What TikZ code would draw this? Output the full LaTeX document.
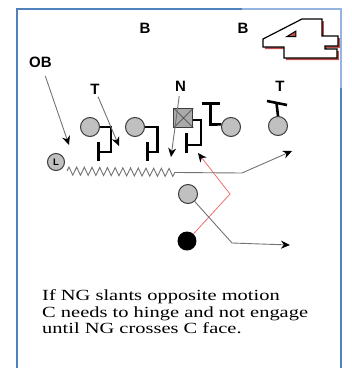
\documentclass[tikz,border=0pt]{standalone}
\usepackage{fontspec}
\setmainfont{Liberation Serif}
\newfontfamily\labelfont{Liberation Sans}
\usetikzlibrary{arrows.meta,decorations.pathmorphing}
\definecolor{frameblue}{RGB}{79,129,189}
\definecolor{framelight}{RGB}{150,180,225}
\definecolor{playerfill}{RGB}{192,192,192}
\definecolor{boxfill}{RGB}{170,170,170}
\definecolor{playerdraw}{RGB}{60,60,60}
\definecolor{routegray}{RGB}{115,115,115}
\definecolor{shadowred}{RGB}{192,80,77}
\definecolor{pathred}{RGB}{240,110,110}
\tikzset{
  player/.style={circle, fill=playerfill, draw=playerdraw, line width=1pt, minimum size=19pt, inner sep=0pt},
  centerbox/.style={rectangle, fill=boxfill, draw=playerdraw, line width=1pt, minimum size=19pt, inner sep=0pt},
  lbl/.style={font=\labelfont\bfseries\fontsize{15}{15}\selectfont, inner sep=0pt},
  blockline/.style={line width=2.6pt, black},
  route/.style={routegray, line width=0.9pt, -{Stealth[length=9pt,width=8pt,color=black]}},
  captionline/.style={anchor=base west, inner sep=0pt, font=\fontsize{15.5}{16}\selectfont},
}
\begin{document}
\begin{tikzpicture}[x=1pt,y=-1pt]
\useasboundingbox (0,0) rectangle (352,368);
% frame
\draw[frameblue, line width=2pt] (17,368) -- (17,9) -- (242,9);
\draw[framelight, line width=2pt] (242,9) -- (341,9) -- (341,88);
\draw[frameblue, line width=2pt] (341,88) -- (341,368);
% the "4" logo
\fill[shadowred] (304,21) -- (324,21) -- (324,38) -- (340,38) -- (340,48) -- (327,48) -- (327,51) -- (339,51) -- (339,60) -- (286,60) -- (286,49) -- (265,49) -- (265,41) -- cycle;
\draw[black, fill=white, line width=1.2pt, line join=miter] (302,19) -- (322,19) -- (322,36) -- (338,36) -- (338,46) -- (325,46) -- (325,49) -- (337,49) -- (337,58) -- (284,58) -- (284,47) -- (263,47) -- (263,39) -- cycle;
\draw[black, fill=shadowred, line width=1pt] (287,36.5) -- (296,31) -- (296,36.5) -- cycle;
% labels
\node[lbl] (b1) at (145,28) {B};
\node[lbl] (b2) at (243,28) {B};
\node[lbl] (ob) at (40.5,62) {OB};
\node[lbl] (tl) at (95,89.5) {T};
\node[lbl] (nl) at (180.5,86.5) {N};
\node[lbl] (tr) at (280,86.5) {T};
% players
\node[player] (p1) at (90,127) {};
\node[player] (p2) at (135,127) {};
\node[centerbox] (sq) at (183.5,118) {};
\draw[playerdraw, line width=0.6pt] (sq.north west) -- (sq.south east) (sq.north east) -- (sq.south west);
\node[player] (p4) at (231,127) {};
\node[player] (p5) at (278,126) {};
\node[player] (p6) at (188,194) {};
\node[circle, fill=black, minimum size=19pt, inner sep=0pt] (bk) at (187,241) {};
\node[player, minimum size=17pt, font=\labelfont\bfseries\fontsize{9.5}{9.5}\selectfont] (lq) at (56,162) {L};
% blocks
\draw[blockline] (p1.east) -- (111,127) -- (111,152) -- (98.5,152);
\draw[blockline] (98.5,142) -- (98.5,161);
\draw[blockline] (p2.east) -- (157.5,127) -- (157.5,152) -- (147.5,152);
\draw[blockline] (147.5,142) -- (147.5,161);
\draw[blockline] (sq.east |- 0,120) -- (201,120) -- (201,145) -- (186.5,145);
\draw[blockline] (186.5,133) -- (186.5,153);
\draw[blockline] (p4.165) -- (210.5,124.5) -- (210.5,103.5);
\draw[blockline] (202,103.5) -- (220,103.5);
\draw[blockline] (p5.north) -- (276.5,103);
\draw[blockline] (267,101) -- (287,105);
% coordinates
\coordinate (obtip) at (69,145);
\coordinate (ttip) at (119,146);
\coordinate (ntip) at (171,157);
\coordinate (rbend) at (230,194);
\coordinate (rtip) at (198,153);
\coordinate (gbend) at (232,243);
\coordinate (gtip) at (290,245);
\coordinate (zs) at (67,171);
\coordinate (ze) at (178,172.5);
\coordinate (mbend) at (242,173);
\coordinate (mtip) at (292,151);
% routes
\draw[route, shorten <=9pt] (ob) -- (obtip);
\draw[route, shorten <=2pt] (tl) -- (ttip);
\draw[route, shorten <=4pt] (nl) -- (ntip);
\draw[pathred, line width=0.8pt, -{Stealth[length=9pt,width=8pt,color=black]}] (bk) -- (rbend) -- (rtip);
\draw[route] (p6) -- (gbend) -- (gtip);
\draw[route] decorate[decoration={zigzag, segment length=7.7pt, amplitude=4pt}] {(zs) -- (ze)} -- (mbend) -- (mtip);
% caption
\node[captionline] (cap1) at (42,300.5) {\scalebox{1.32}[1]{If NG slants opposite motion}};
\node[captionline] (cap2) at (42,317) {\scalebox{1.32}[1]{C needs to hinge and not engage}};
\node[captionline] (cap3) at (42,333.5) {\scalebox{1.32}[1]{until NG crosses C face.}};
\end{tikzpicture}
\end{document}
